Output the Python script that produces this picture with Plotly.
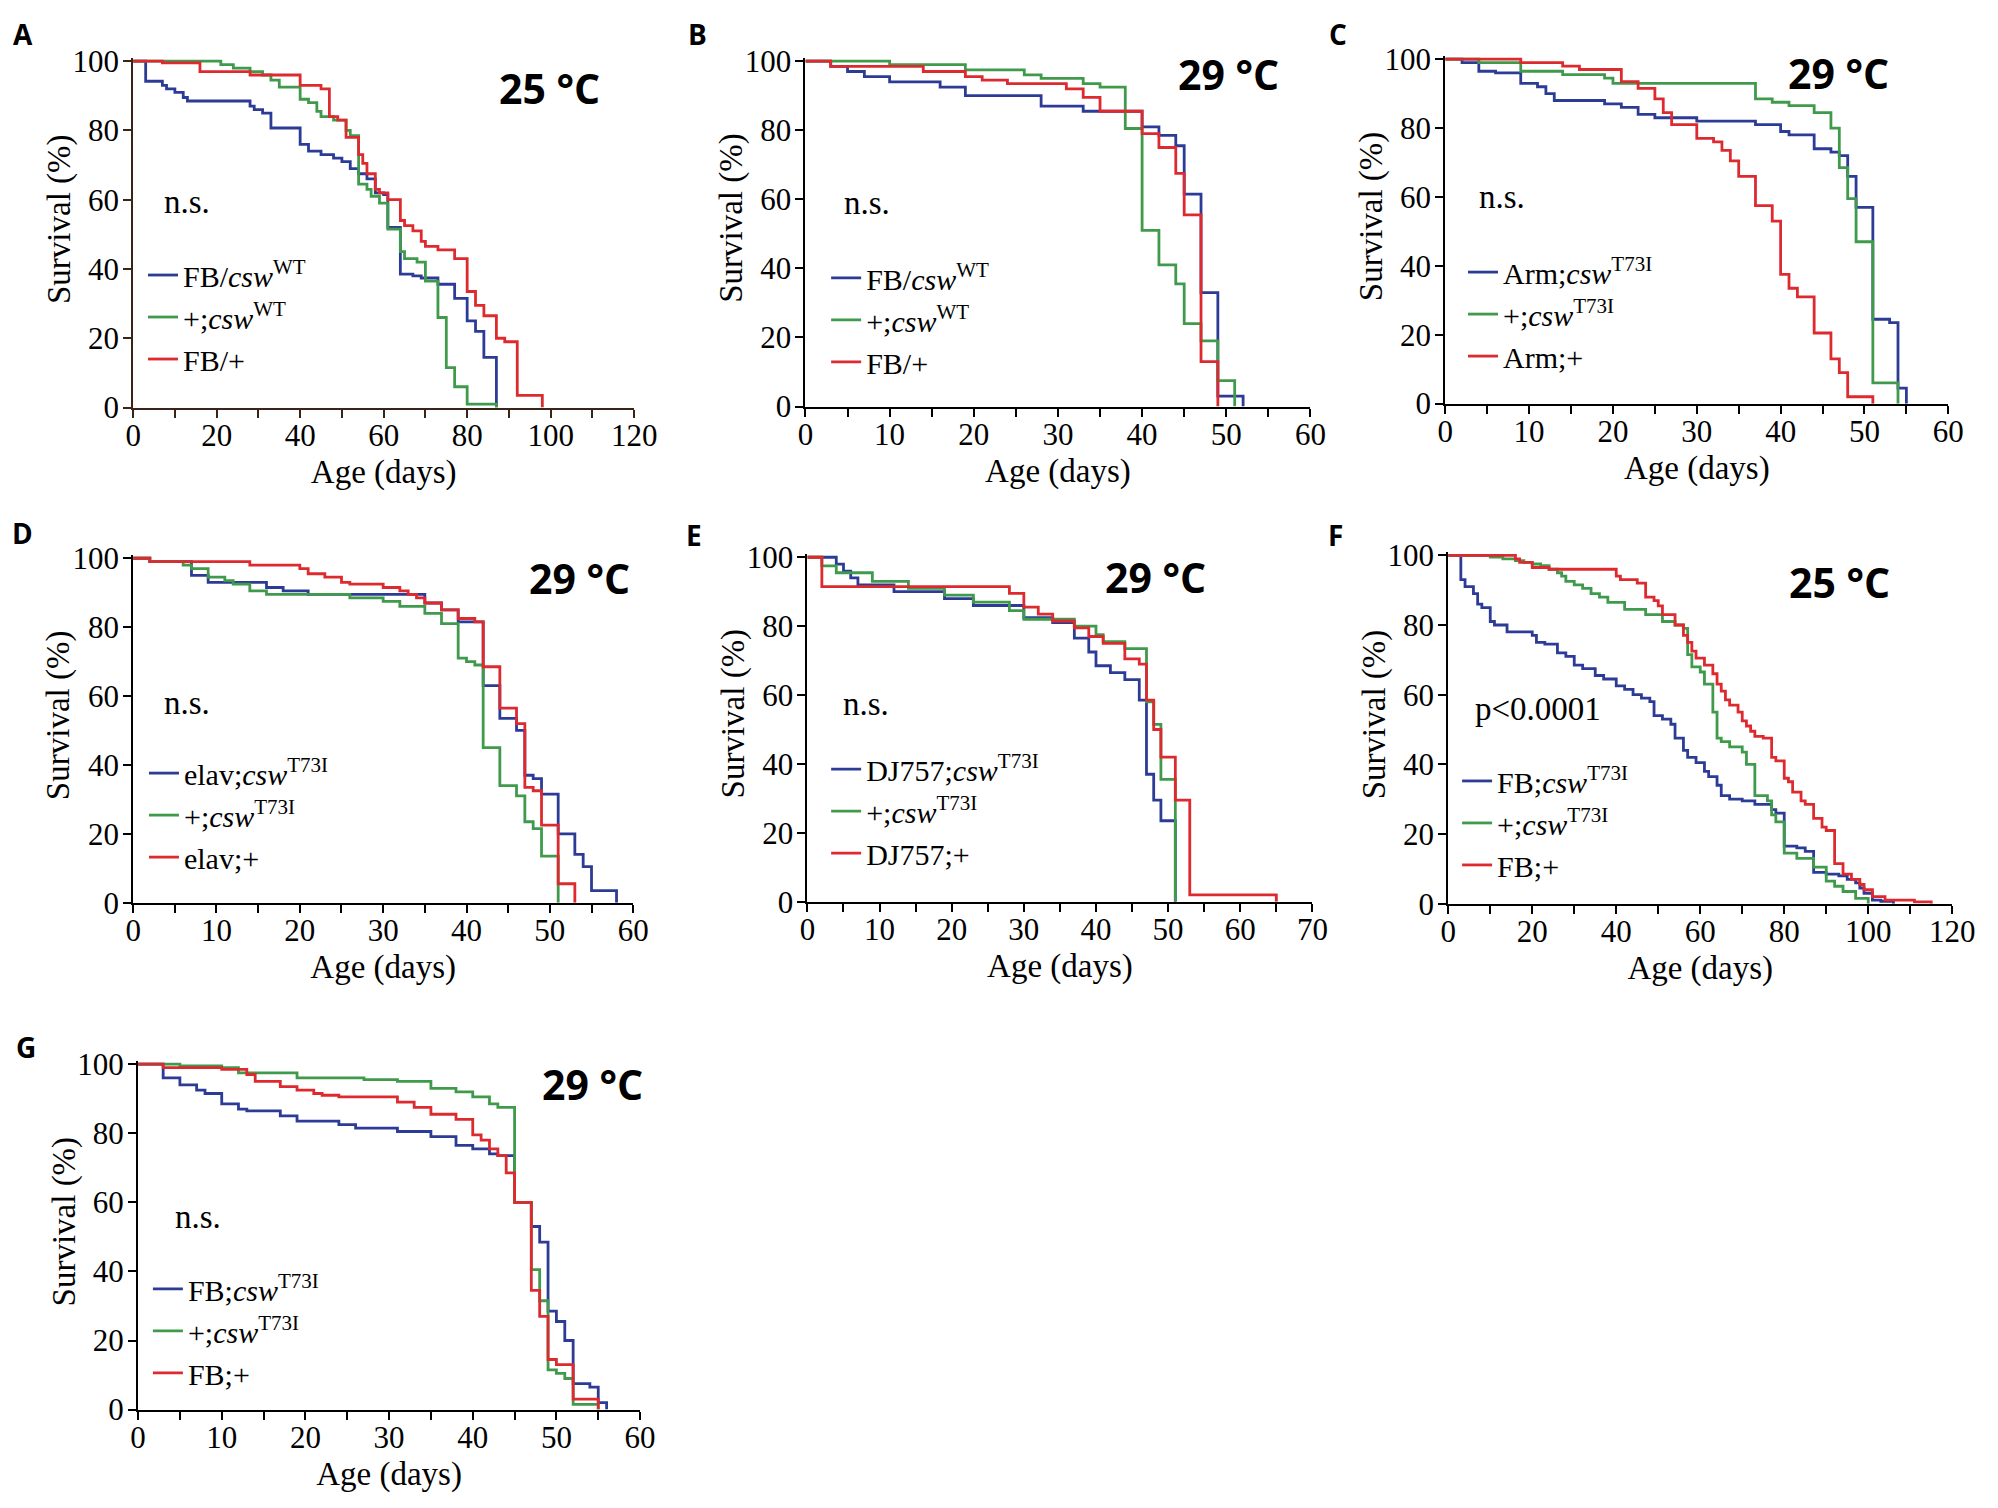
import plotly.graph_objects as go

# ---- survival curves: day, % alive ----
# A, 25 °C
a_blue_x = [0, 3, 7, 8, 10, 12, 13, 28, 29, 31, 33, 40, 42, 45, 48, 50, 52, 54, 56, 58, 60, 61, 64, 67, 69, 73, 77, 80, 82, 84, 87]
a_blue_y = [100, 94.2, 93, 92, 91, 89.5, 88.5, 87, 86, 85, 80.7, 76, 74, 73, 72, 71, 69, 67.5, 66, 62, 61.5, 52, 38.5, 38, 37.4, 35.6, 31.5, 25, 22, 14.5, 0]
a_green_x = [0, 21, 24, 28, 31, 33, 35, 40, 42, 44, 45, 48, 51, 52, 54, 56, 57, 59, 61, 64, 65, 68, 70, 73, 75, 77, 80, 87]
a_green_y = [100, 99, 98, 97, 96, 94.5, 92.5, 89, 88, 85.5, 84, 83, 80, 78.5, 64.5, 63, 61, 59, 51.5, 45, 43, 42, 36.5, 26, 11.5, 6, 1, 0]
a_red_x = [0, 7, 16, 28, 40, 45, 47, 49, 51, 54, 55, 56, 58, 59, 61, 64, 65, 67, 69, 70, 73, 77, 80, 82, 84, 87, 89, 92, 98]
a_red_y = [100, 99.5, 97, 96, 93, 92, 84, 83, 78, 73, 70.5, 67.5, 63, 62, 60, 54, 52.5, 51, 48, 46.5, 45.5, 43, 33.5, 29.5, 26.5, 20, 19, 3.5, 0]

# B, 29 °C
b_blue_x = [0, 3, 5, 7, 10, 16, 19, 28, 33, 40, 42, 44, 45, 47, 49, 52]
b_blue_y = [100, 98.5, 97, 95.5, 94, 92.5, 90, 87, 85.5, 81, 78.5, 75.5, 61.5, 33, 3, 0]
b_green_x = [0, 10, 19, 26, 28, 33, 35, 38, 40, 42, 44, 45, 47, 49, 51]
b_green_y = [100, 99, 97.5, 96, 95, 93.5, 92.5, 80.5, 51, 41, 35.5, 24, 19, 7.5, 0]
b_red_x = [0, 3, 14, 19, 21, 24, 31, 33, 35, 40, 42, 44, 45, 47, 49]
b_red_y = [100, 98.5, 97, 95.5, 94.5, 93.5, 92, 89.5, 85.5, 79, 75, 67.5, 55.5, 13, 0]

# C, 29 °C
c_blue_x = [0, 2, 4, 6, 9, 11, 12, 13, 19, 21, 23, 25, 30, 37, 40, 41, 44, 46, 47, 48, 49, 51, 53, 54, 55]
c_blue_y = [100, 99, 96.5, 96, 93, 92, 90, 88, 87, 86, 84, 83, 82, 81, 79, 78, 74, 73, 72, 66, 57, 24.5, 23.5, 4.5, 0]
c_green_x = [0, 4, 9, 14, 19, 20, 37, 39, 41, 44, 46, 47, 48, 49, 51, 54]
c_green_y = [100, 99, 96.5, 95.5, 94.5, 93, 88.5, 87.5, 86.5, 84.5, 80, 68.5, 59.5, 47, 6, 0]
c_red_x = [0, 9, 14, 16, 21, 23, 25, 26, 27, 30, 32, 33, 34, 35, 37, 39, 40, 41, 42, 44, 46, 47, 48, 51]
c_red_y = [100, 99, 98, 97, 93.5, 91.5, 88.5, 84.5, 81, 77, 76, 73.5, 70.5, 66, 57.5, 53, 37.5, 33.5, 31, 20.5, 13, 9, 2, 0]

# D, 29 °C
d_blue_x = [0, 2, 7, 9, 16, 18, 21, 35, 37, 39, 42, 44, 46, 47, 48, 49, 51, 53, 54, 55, 58]
d_blue_y = [100, 99, 95, 93, 91.5, 90.5, 89.5, 87, 85, 81.5, 63, 53.5, 50, 37, 36, 31.5, 20, 14, 10.5, 3.5, 0]
d_green_x = [0, 2, 6, 7, 9, 11, 12, 14, 16, 26, 30, 32, 35, 37, 39, 40, 41, 42, 44, 46, 47, 48, 49, 51]
d_green_y = [100, 99, 98, 97, 94.5, 93.5, 92.5, 90.5, 89.5, 88.5, 87.5, 86, 84, 81, 71, 70, 69, 45, 34, 31, 23.5, 21.5, 13.5, 0]
d_red_x = [0, 2, 14, 20, 21, 23, 25, 26, 30, 32, 33, 34, 35, 37, 39, 41, 42, 44, 46, 47, 48, 49, 51, 53]
d_red_y = [100, 99, 98, 97, 95.5, 94.5, 93, 92.5, 91.5, 90.5, 89.5, 88.5, 87, 85, 82.5, 81.5, 68.5, 56.5, 52, 33.5, 32.5, 22.5, 5.5, 0]

# E, 29 °C
e_blue_x = [0, 4, 5, 6, 7, 12, 19, 23, 30, 34, 37, 39, 40, 42, 44, 46, 47, 48, 49, 51]
e_blue_y = [100, 98, 96, 94, 92, 90, 88, 86, 82.5, 81, 76.5, 72.5, 68.5, 66.5, 64.5, 58.5, 37, 29.5, 23.5, 0]
e_green_x = [0, 2, 4, 9, 14, 19, 23, 28, 30, 37, 40, 41, 44, 47, 48, 49, 51]
e_green_y = [100, 97.5, 95.5, 93, 91, 89, 87, 84.5, 82, 80, 77.5, 75.5, 73.5, 58, 51.5, 35.5, 0]
e_red_x = [0, 2, 28, 30, 32, 34, 37, 39, 41, 44, 46, 47, 48, 49, 51, 53, 65]
e_red_y = [100, 91.5, 89.5, 85.5, 83.5, 81.5, 79.5, 77, 75, 70.5, 69, 58.5, 50, 42, 29.5, 2, 0]

# F, 25 °C
f_blue_x = [0, 3, 4, 6, 7, 8, 10, 11, 14, 20, 21, 23, 26, 28, 30, 32, 35, 37, 40, 42, 44, 46, 48, 49, 51, 53,
            54, 56, 57, 59, 61, 62, 64, 65, 67, 70, 73, 77, 78, 80, 83, 85, 87, 90, 93, 95, 97, 98, 99, 101, 103, 106]
f_blue_y = [100, 93, 91, 89, 86, 85, 81, 80, 78, 77, 75, 74.5, 72, 71, 68.5, 67.5, 65.5, 64.5, 62.5, 61.5, 60, 59, 58, 54, 53, 51.5,
            47.5, 44, 42, 40.5, 38, 36.5, 34, 31, 30, 29.5, 28.5, 27, 26, 16.5, 16, 15, 9, 8.5, 8, 7, 6, 4.5, 3, 1, 0.7, 0]
f_green_x = [0, 3, 10, 13, 16, 18, 20, 22, 24, 26, 27, 28, 30, 32, 34, 36, 38, 42, 47, 51, 54, 56,
             57, 58, 60, 61, 63, 64, 65, 67, 70, 71, 73, 76, 77, 78, 80, 83, 87, 90, 92, 94, 97, 100]
f_green_y = [100, 99.9, 99.5, 99, 98.5, 98, 97.5, 97, 96, 95, 94, 92.5, 91.5, 90.5, 89, 88, 86.5, 84.5, 83, 81, 80, 79,
             71.5, 68, 66.5, 63, 55, 47.5, 46.5, 45, 43.5, 40, 31, 29.5, 25.5, 23.5, 14.5, 13, 10.5, 6.5, 5, 3.5, 1.5, 0]
f_red_x = [0, 16, 17, 20, 24, 40, 41, 45, 47, 49, 50, 51, 54, 56, 57, 58, 59, 61, 63, 64, 65, 66, 67, 69,
           70, 71, 72, 73, 75, 77, 78, 80, 81, 82, 84, 85, 87, 89, 90, 92, 94, 96, 98, 99, 101, 104, 111, 115]
f_red_y = [100, 99, 98, 96.5, 96, 94, 93, 92, 88, 87, 85.5, 83, 80, 77, 75, 72.5, 70.5, 68.5, 66, 63, 61, 58.5, 57, 55,
           52.5, 51, 49.5, 48, 47.5, 42, 41, 36, 35, 32, 29.5, 28.5, 24.5, 22, 21, 11.5, 8.5, 7, 5.5, 4, 2, 1, 0.5, 0]

# G, 29 °C
g_blue_x = [0, 3, 5, 7, 8, 10, 12, 13, 17, 19, 24, 26, 31, 35, 38, 40, 42, 43, 45, 47, 48, 49, 50, 51, 52, 54, 55, 56]
g_blue_y = [100, 96, 94, 92.5, 91.5, 88.5, 87, 86.5, 85, 83.5, 82.5, 81.5, 80.5, 79, 76.5, 75.5, 74, 73.5, 60, 53, 48.5, 28.5, 25.5, 20, 7.5, 6.5, 2, 0]
g_green_x = [0, 5, 10, 12, 19, 27, 31, 35, 38, 40, 42, 43, 45, 47, 48, 49, 50, 51, 52, 55]
g_green_y = [100, 99.5, 99, 97.5, 96, 95.5, 95, 93, 92, 90.5, 88.5, 87.5, 60, 40.5, 31.5, 11.5, 10.5, 9, 1.5, 0]
g_red_x = [0, 3, 10, 13, 14, 17, 19, 21, 22, 24, 31, 33, 35, 38, 40, 41, 42, 43, 44, 45, 47, 48, 49, 50, 52, 55]
g_red_y = [100, 99, 98.5, 97, 95, 93.5, 92.5, 91.5, 91, 90.5, 89, 87.5, 85.5, 84, 79.5, 78, 75.5, 73.5, 68.5, 60, 34.5, 27, 14.5, 13, 3, 0]

# legend labels
wt_labels = ["FB/<i>csw</i><sup>WT</sup>", "+;<i>csw</i><sup>WT</sup>", "FB/+"]
arm_labels = ["Arm;<i>csw</i><sup>T73I</sup>", "+;<i>csw</i><sup>T73I</sup>", "Arm;+"]
elav_labels = ["elav;<i>csw</i><sup>T73I</sup>", "+;<i>csw</i><sup>T73I</sup>", "elav;+"]
dj_labels = ["DJ757;<i>csw</i><sup>T73I</sup>", "+;<i>csw</i><sup>T73I</sup>", "DJ757;+"]
fb_labels = ["FB;<i>csw</i><sup>T73I</sup>", "+;<i>csw</i><sup>T73I</sup>", "FB;+"]

# page is 1998x1508; the html body has an 8px margin, so the figure is a bit smaller
OFF = 8
W, H = 1998 - 2 * OFF, 1508 - 2 * OFF
COLORS = ["#2c3b96", "#3f9a4c", "#dd2a2f"]
SERIF = "Liberation Serif"
SANS = "Open Sans"
YTOP = 101


def px(x):
    return (x - OFF) / W


def py(y):
    return 1 - (y - OFF) / H


panels = [
    # letter, temperature, stats, xmax, label step, tick step, plot box px (x0, x1, y100, y0),
    # legend (line start px, first row px), letter pos px, temp right/mid px, stat left/mid px
    dict(letter="A", temp="25 °C", stat="n.s.", xmax=120, step=20, minor=10, box=(127, 636, 48, 402),
         leg=(142, 270), lpos=(15, 20), tpos=(603, 75), spos=(156, 192), axc="#3a2418",
         series=[(a_blue_x, a_blue_y), (a_green_x, a_green_y), (a_red_x, a_red_y)], names=wt_labels),
    dict(letter="B", temp="29 °C", stat="n.s.", xmax=60, step=10, minor=5, box=(810, 1323, 48, 401),
         leg=(836, 273), lpos=(700, 20), tpos=(1293, 61), spos=(847, 193), axc="black",
         series=[(b_blue_x, b_blue_y), (b_green_x, b_green_y), (b_red_x, b_red_y)], names=wt_labels),
    dict(letter="C", temp="29 °C", stat="n.s.", xmax=60, step=10, minor=5, box=(1460, 1971, 46, 398),
         leg=(1483, 267), lpos=(1351, 20), tpos=(1913, 60), spos=(1492, 187), axc="black",
         series=[(c_blue_x, c_blue_y), (c_green_x, c_green_y), (c_red_x, c_red_y)], names=arm_labels),
    dict(letter="D", temp="29 °C", stat="n.s.", xmax=60, step=10, minor=5, box=(127, 635, 556, 908),
         leg=(143, 779), lpos=(15, 530), tpos=(634, 576), spos=(156, 704), axc="black",
         series=[(d_blue_x, d_blue_y), (d_green_x, d_green_y), (d_red_x, d_red_y)], names=elav_labels),
    dict(letter="E", temp="29 °C", stat="n.s.", xmax=70, step=10, minor=5, box=(812, 1325, 555, 907),
         leg=(836, 775), lpos=(697, 532), tpos=(1219, 575), spos=(846, 705), axc="black",
         series=[(e_blue_x, e_blue_y), (e_green_x, e_green_y), (e_red_x, e_red_y)], names=dj_labels),
    dict(letter="F", temp="25 °C", stat="p&lt;0.0001", xmax=120, step=20, minor=10, box=(1463, 1975, 553, 909),
         leg=(1477, 787), lpos=(1348, 532), tpos=(1914, 580), spos=(1488, 710), axc="black",
         series=[(f_blue_x, f_blue_y), (f_green_x, f_green_y), (f_red_x, f_red_y)], names=fb_labels),
    dict(letter="G", temp="29 °C", stat="n.s.", xmax=60, step=10, minor=5, box=(132, 642, 1073, 1426),
         leg=(147, 1306), lpos=(18, 1055), tpos=(647, 1093), spos=(167, 1229), axc="black",
         series=[(g_blue_x, g_blue_y), (g_green_x, g_green_y), (g_red_x, g_red_y)], names=fb_labels),
]

fig = go.Figure()
layout = {}
annotations = []

for i, p in enumerate(panels, 1):
    sfx = "" if i == 1 else str(i)
    xa, ya = "x" + sfx, "y" + sfx
    x0, x1, y100, y0 = p["box"]
    ytop = y100 - (y0 - y100) * (YTOP - 100) / 100.0

    for (xs, ys), color, name in zip(p["series"], COLORS, p["names"]):
        fig.add_trace(go.Scatter(
            x=xs, y=ys, mode="lines", name=name,
            line=dict(color=color, width=2.8, shape="hv"),
            xaxis=xa, yaxis=ya, legend="legend" + sfx, hoverinfo="skip",
        ))

    axc = p["axc"]
    common = dict(
        showline=True, linecolor=axc, linewidth=2, ticks="outside", ticklen=8, tickwidth=2,
        tickcolor=axc, showgrid=False, zeroline=False,
        tickfont=dict(family=SERIF, size=31, color="black"),
    )
    layout["xaxis" + sfx] = dict(
        common, domain=[px(x0), px(x1)], anchor=ya, range=[0, p["xmax"]],
        tick0=0, dtick=p["step"], ticklabelstandoff=-9,
        minor=dict(ticks="outside", dtick=p["minor"], ticklen=8, tickwidth=2, tickcolor=axc, showgrid=False),
        title=dict(text="Age (days)", font=dict(family=SERIF, size=33, color="black"), standoff=8),
    )
    layout["yaxis" + sfx] = dict(
        common, domain=[py(y0), py(ytop)], anchor=xa, range=[0, YTOP],
        tickvals=[0, 20, 40, 60, 80, 100], ticklabelstandoff=-2,
    )

    # y-axis title, placed as in the source figure (a little above the middle)
    annotations.append(dict(
        text="Survival (%)", textangle=-90, x=px(x0 - 75), y=py((y100 + y0) / 2 - 16),
        xref="paper", yref="paper", xanchor="center", yanchor="middle", showarrow=False,
        font=dict(family=SERIF, size=33, color="black"),
    ))

    lx, ly = p["leg"]
    layout["legend" + sfx] = dict(
        x=px(lx - 5), y=py(ly - 30), xanchor="left", yanchor="top",
        xref="paper", yref="paper", bgcolor="rgba(0,0,0,0)", borderwidth=0,
        font=dict(family=SERIF, size=30, color="black"), tracegroupgap=0, traceorder="normal",
    )

    annotations.append(dict(
        text="<b>%s</b>" % p["letter"], x=px(p["lpos"][0]), y=py(p["lpos"][1]),
        xref="paper", yref="paper", xanchor="center", yanchor="middle", showarrow=False,
        font=dict(family=SANS, size=28, color="black"),
    ))
    annotations.append(dict(
        text="<b>%s</b>" % p["temp"], x=px(p["tpos"][0]), y=py(p["tpos"][1]),
        xref="paper", yref="paper", xanchor="right", yanchor="middle", showarrow=False,
        font=dict(family=SANS, size=41, color="black"),
    ))
    annotations.append(dict(
        text=p["stat"], x=px(p["spos"][0]), y=py(p["spos"][1]),
        xref="paper", yref="paper", xanchor="left", yanchor="middle", showarrow=False,
        font=dict(family=SERIF, size=33, color="black"),
    ))

fig.update_layout(
    width=W, height=H, margin=dict(l=0, r=0, t=0, b=0),
    paper_bgcolor="white", plot_bgcolor="white",
    annotations=annotations, **layout,
)

fig.write_html("out.html")
